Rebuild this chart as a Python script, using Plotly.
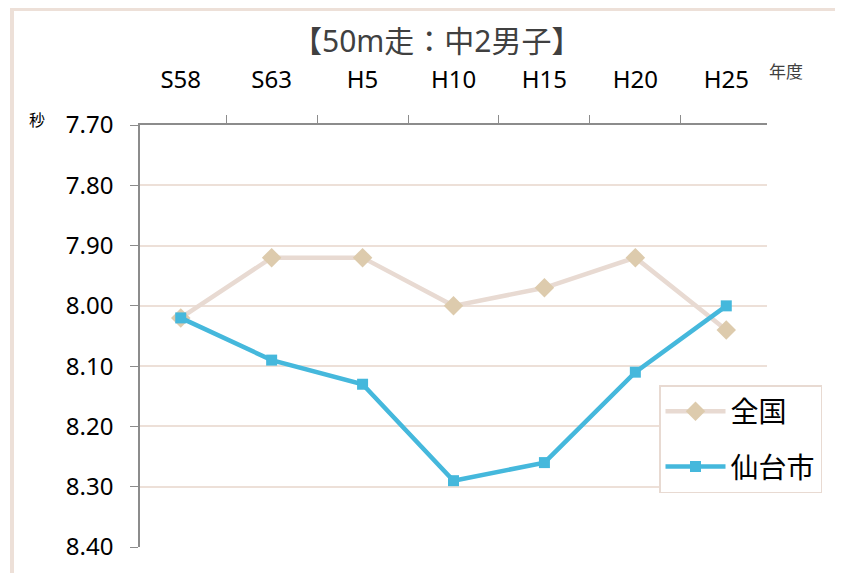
import plotly.graph_objects as go

categories = ["S58", "S63", "H5", "H10", "H15", "H20", "H25"]
national = [8.02, 7.92, 7.92, 8.00, 7.97, 7.92, 8.04]
sendai = [8.02, 8.09, 8.13, 8.29, 8.26, 8.11, 8.00]
y_ticks = [7.70, 7.80, 7.90, 8.00, 8.10, 8.20, 8.30, 8.40]

CJK = "Noto Sans CJK JP"
LAT = "Noto Sans, Noto Sans CJK JP"

fig = go.Figure()
fig.add_trace(go.Scatter(
    x=categories, y=national, name="全国", mode="lines+markers",
    line=dict(color="#E8DAD2", width=4.5),
    marker=dict(symbol="diamond", size=15, color="#DDCBAD"),
    legendgroup="a",
))
fig.add_trace(go.Scatter(
    x=categories, y=sendai, name="仙台市", mode="lines+markers",
    line=dict(color="#45B8DC", width=4.5),
    marker=dict(symbol="square", size=11, color="#45B8DC"),
    legendgroup="b",
))

D = 8  # page body offset
FW, FH = 843 - D, 573 - D
L, T = 140 - D, 125 - D
R = FW - (767 - D)
B = FH - (547 - D)
W, H = FW - L - R, FH - T - B


def px(x):
    return (x - 140) / W


def py(y):
    return (547 - y) / H


fig.update_layout(
    width=FW, height=FH,
    margin=dict(l=L, r=R, t=T, b=B),
    paper_bgcolor="white", plot_bgcolor="white",
    font=dict(family=LAT, color="#000000"),
    showlegend=True,
    legend=dict(
        x=px(659), y=py(385), xanchor="left", yanchor="top",
        bordercolor="#E8DAD2", borderwidth=1.5, bgcolor="white",
        font=dict(size=28, family=CJK, color="#000000"),
        itemwidth=60, tracegroupgap=16,
    ),
    xaxis=dict(
        type="category", side="top", categoryorder="array", categoryarray=categories,
        tickson="boundaries", ticks="outside", ticklen=8, tickcolor="#8C8C8C",
        showline=True, linecolor="#8C8C8C", linewidth=1.5,
        showgrid=False, tickfont=dict(size=24, family=LAT, color="#000000"),
        ticklabelstandoff=26,
    ),
    yaxis=dict(
        range=[8.40, 7.70], tickvals=y_ticks,
        ticktext=[f"{v:.2f}" for v in y_ticks],
        ticks="outside", ticklen=8, tickcolor="#8C8C8C",
        showline=True, linecolor="#8C8C8C", linewidth=1.5,
        showgrid=True, gridcolor="#EDE0D8", gridwidth=1.5,
        zeroline=False, tickfont=dict(size=24, family=LAT, color="#000000"),
        ticklabelstandoff=12,
    ),
    annotations=[
        dict(text="【50m走：中2男子】", xref="paper", yref="paper",
             x=px(437), y=py(40), xanchor="center", yanchor="middle",
             showarrow=False, font=dict(size=30, family=LAT, color="#404040")),
        dict(text="秒", xref="paper", yref="paper",
             x=px(37), y=py(119), xanchor="center", yanchor="middle",
             showarrow=False, font=dict(size=16, family=CJK, color="#000000")),
        dict(text="年度", xref="paper", yref="paper",
             x=px(786), y=py(70), xanchor="center", yanchor="middle",
             showarrow=False, font=dict(size=17, family=CJK, color="#404040")),
    ],
    shapes=[
        dict(type="rect", xref="paper", yref="paper",
             x0=px(12), x1=px(870),
             y0=py(600), y1=py(9),
             line=dict(color="#EDE0D8", width=4), layer="below"),
    ],
)

fig.write_html("out.html")
